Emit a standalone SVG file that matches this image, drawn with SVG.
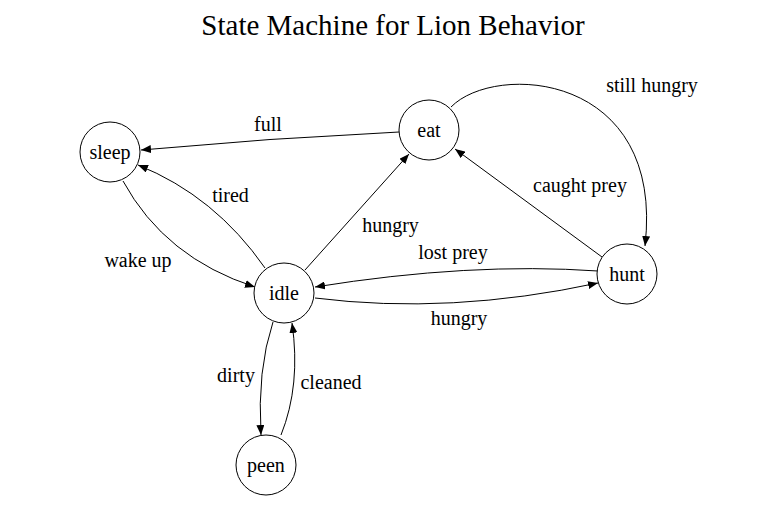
<svg xmlns="http://www.w3.org/2000/svg" width="778" height="508" viewBox="0 0 778 508">
<defs>
<marker id="arr" viewBox="0 0 10 8" markerWidth="10" markerHeight="8" refX="10" refY="4" orient="auto" markerUnits="userSpaceOnUse">
<path d="M0,0 L10,4 L0,8 z" fill="#000"/>
</marker>
<style>
.title{font-size:29px;text-anchor:middle}
.node circle{fill:#fff;stroke:#000;stroke-width:1}
.node text{font-size:20px;text-anchor:middle}
.edge path{fill:none;stroke:#000;stroke-width:1;marker-end:url(#arr)}
.edge text{font-size:20px;text-anchor:middle}
</style>
</defs>
<rect width="778" height="508" fill="#fff"/>
<g font-family="Liberation Serif, Times New Roman, DejaVu Serif, serif" fill="#000">
<text class="title" x="393" y="35">State Machine for Lion Behavior</text>
<g id="connectors" class="edge">
<g id="e-full"><path d="M399,132 Q270,138 141,150"/><text x="268" y="131">full</text></g>
<g id="e-wakeup"><path d="M123,181 Q165,258 255,287"/><text x="138" y="267">wake up</text></g>
<g id="e-tired"><path d="M265,268 Q215,196 138,165"/><text x="230.5" y="202">tired</text></g>
<g id="e-hungry1"><path d="M305,270 L409,154"/><text x="390.5" y="232">hungry</text></g>
<g id="e-stillhungry"><path d="M451,107 C495,62 665,72 645,246"/><text x="652" y="92">still hungry</text></g>
<g id="e-caught"><path d="M602,257 L455,149"/><text x="580" y="192">caught prey</text></g>
<g id="e-lost"><path d="M598,271 Q470,262 315,287"/><text x="453" y="259">lost prey</text></g>
<g id="e-hungry2"><path d="M315,298 Q450,315 598,283"/><text x="459" y="325">hungry</text></g>
<g id="e-dirty"><path d="M273,322 Q257,370 261,435"/><text x="236" y="382">dirty</text></g>
<g id="e-cleaned"><path d="M281,435 Q301,385 292,323"/><text x="331" y="389">cleaned</text></g>
</g>
<g id="sleep" class="node"><circle cx="110" cy="152" r="30"/><text x="110" y="159">sleep</text></g>
<g id="eat" class="node"><circle cx="429" cy="130" r="30"/><text x="429" y="137">eat</text></g>
<g id="idle" class="node"><circle cx="284" cy="293" r="30"/><text x="284" y="300">idle</text></g>
<g id="hunt" class="node"><circle cx="627" cy="274" r="30"/><text x="627" y="281">hunt</text></g>
<g id="peen" class="node"><circle cx="266" cy="465" r="30"/><text x="266" y="472">peen</text></g>
</g>
</svg>
